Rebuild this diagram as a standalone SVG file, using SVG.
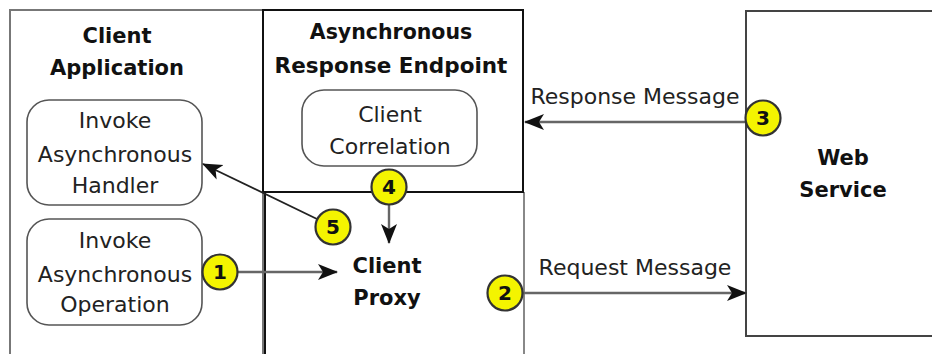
<svg xmlns="http://www.w3.org/2000/svg" width="932" height="354" viewBox="0 0 932 354">
<style>
.t{font-family:"DejaVu Sans","Liberation Sans",sans-serif;font-size:22px;fill:#222;text-anchor:middle}
.b{font-family:"DejaVu Sans","Liberation Sans",sans-serif;font-size:21px;font-weight:bold;fill:#111;text-anchor:middle}
.rr{fill:#fff;stroke:#555;stroke-width:1.6}
.num circle{fill:#f4f400;stroke:#333;stroke-width:2.2}
.num text{font-family:"DejaVu Sans","Liberation Sans",sans-serif;font-size:20px;font-weight:bold;fill:#111;text-anchor:middle}
.c{stroke:#666;stroke-width:2.4;fill:none}
</style>
<defs>
<marker id="ah" markerUnits="userSpaceOnUse" markerWidth="20" markerHeight="20" viewBox="0 0 20 20" refX="19" refY="10" orient="auto">
<path d="M0,2 L20,10 L0,18 L5,10 z" fill="#111"/>
</marker>
</defs>
<rect width="932" height="354" fill="#fff"/>
<g id="client-application">
<rect x="10" y="10" width="253" height="370" fill="none" stroke="#777" stroke-width="2"/>
<text class="b" x="117" y="43">Client</text>
<text class="b" x="117" y="75">Application</text>
</g>
<g id="async-endpoint">
<rect x="263" y="10" width="260" height="182" fill="none" stroke="#111" stroke-width="2"/>
<text class="b" x="391" y="39" style="font-size:20.5px">Asynchronous</text>
<text class="b" x="391" y="73" style="font-size:21.5px">Response Endpoint</text>
</g>
<g id="client-proxy">
<line x1="265" y1="192" x2="265" y2="360" stroke="#111" stroke-width="2"/>
<line x1="524" y1="192" x2="524" y2="360" stroke="#888" stroke-width="2"/>
<line x1="263" y1="192" x2="524" y2="192" stroke="#111" stroke-width="2"/>
<text class="b" x="387" y="273">Client</text>
<text class="b" x="387" y="305">Proxy</text>
</g>
<g id="web-service">
<rect x="746" y="11" width="200" height="325" fill="none" stroke="#444" stroke-width="2"/>
<text class="b" x="843" y="165">Web</text>
<text class="b" x="843" y="197">Service</text>
</g>
<g id="invoke-handler">
<rect class="rr" x="27" y="100" width="175" height="105" rx="22"/>
<text class="t" x="115" y="128">Invoke</text>
<text class="t" x="115" y="162">Asynchronous</text>
<text class="t" x="115" y="193">Handler</text>
</g>
<g id="invoke-operation">
<rect class="rr" x="27" y="219" width="175" height="106" rx="22"/>
<text class="t" x="115" y="248">Invoke</text>
<text class="t" x="115" y="282">Asynchronous</text>
<text class="t" x="115" y="312">Operation</text>
</g>
<g id="client-correlation">
<rect class="rr" x="302" y="90" width="175" height="76" rx="22"/>
<text class="t" x="390" y="122">Client</text>
<text class="t" x="390" y="154">Correlation</text>
</g>
<g id="connectors">
<line class="c" x1="237" y1="272" x2="337" y2="272" marker-end="url(#ah)"/>
<line class="c" x1="523" y1="293" x2="746" y2="293" marker-end="url(#ah)"/>
<line class="c" x1="746" y1="122" x2="525" y2="122" marker-end="url(#ah)"/>
<line class="c" x1="389" y1="205" x2="389" y2="243" marker-end="url(#ah)"/>
<line x1="317" y1="219" x2="203" y2="164" stroke="#222" stroke-width="1.8" marker-end="url(#ah)"/>
<text class="t" x="635" y="104">Response Message</text>
<text class="t" x="635" y="275">Request Message</text>
</g>
<g id="step-markers" class="num">
<g id="step1"><circle cx="220" cy="272" r="17.5"/><text x="220" y="279">1</text></g>
<g id="step2"><circle cx="505" cy="293" r="17.5"/><text x="505" y="300">2</text></g>
<g id="step3"><circle cx="763" cy="118" r="17.5"/><text x="763" y="125">3</text></g>
<g id="step4"><circle cx="389" cy="187" r="17.5"/><text x="389" y="194">4</text></g>
<g id="step5"><circle cx="333" cy="227" r="17.5"/><text x="333" y="234">5</text></g>
</g>
</svg>
